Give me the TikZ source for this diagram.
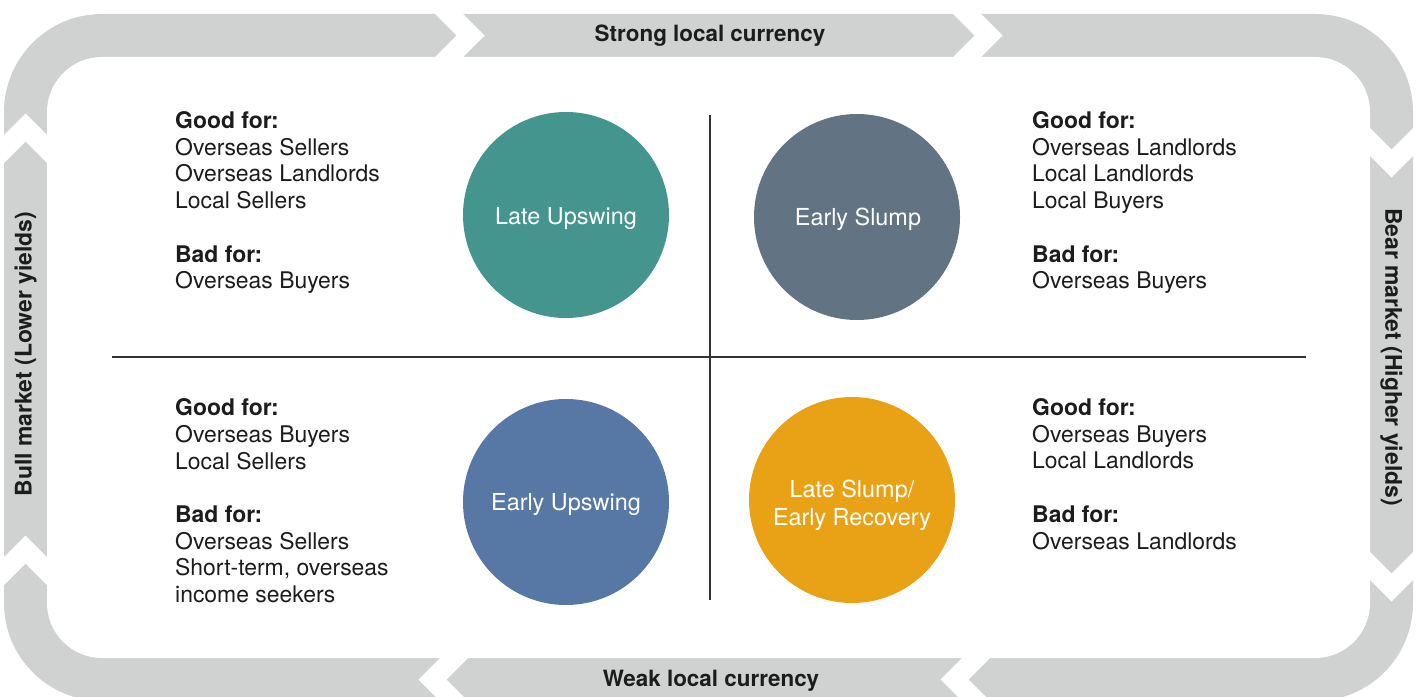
\documentclass[tikz,border=0pt]{standalone}
\usepackage{fontspec}
\setmainfont{TeX Gyre Heros}
\definecolor{bandgray}{HTML}{D0D2D1}
\definecolor{cteal}{HTML}{45958F}
\definecolor{cslate}{HTML}{627384}
\definecolor{cblue}{HTML}{5778A5}
\definecolor{corange}{HTML}{E9A216}
\definecolor{txtdark}{HTML}{1C1C1C}
\definecolor{rulegray}{HTML}{333333}
\tikzset{
  band/.style={fill=bandgray},
  gapfill/.style={fill=white},
  txt/.style={font=\fontsize{23}{26.8}\selectfont, align=left, inner sep=0pt, text=txtdark, anchor=base west},
  phase/.style={circle, minimum size=206bp, inner sep=0pt},
  phaselabel/.style={text=white, align=center, inner sep=0pt, font=\fontsize{23.5}{28}\selectfont},
  bandlabel/.style={font=\fontsize{22.5}{27}\selectfont\bfseries, text=txtdark, inner sep=0pt},
  divider/.style={draw=rulegray, line width=1.1bp}
}
% chevron gaps: #1 = position of the tip corners
\newcommand{\gapRight}[1]{\fill[gapfill] (#1-3,11) -- (#1+21.5,35.5) -- (#1-3,60) -- (#1+25,60) -- (#1+49.5,35.5) -- (#1+25,11) -- cycle;}
\newcommand{\gapDown}[1]{\fill[gapfill] (1367,#1-3) -- (1391.5,#1+21.5) -- (1416,#1-3) -- (1416,#1+25) -- (1391.5,#1+49.5) -- (1367,#1+25) -- cycle;}
\newcommand{\gapLeft}[1]{\fill[gapfill] (#1+3,655) -- (#1-21.5,679.5) -- (#1+3,704) -- (#1-25,704) -- (#1-49.5,679.5) -- (#1-25,655) -- cycle;}
\newcommand{\gapUp}[1]{\fill[gapfill] (1,#1+3) -- (25.5,#1-21.5) -- (50,#1+3) -- (50,#1-25) -- (25.5,#1-49.5) -- (1,#1-25) -- cycle;}
\begin{document}
\begin{tikzpicture}[x=1bp,y=-1bp]
\useasboundingbox (0,0) rectangle (1422,697);
\clip (0,0) rectangle (1422,697);
% frame band
\fill[band, rounded corners=98bp] (4,14) rectangle (1413,701);
\fill[white, rounded corners=55bp] (47,57) rectangle (1370,658);
% gaps between the arrow pieces
\gapRight{435}
\gapRight{953}
\gapDown{128}
\gapDown{552}
\gapLeft{990}
\gapLeft{468}
\gapUp{585}
\gapUp{163}
% band labels
\node[bandlabel] (strong) at (710,36) {Strong local currency};
\node[bandlabel] (weak) at (711,681) {Weak local currency};
\node[bandlabel, font=\fontsize{23}{27}\selectfont\bfseries, rotate=90] (bull) at (25.5,354) {Bull market (Lower yields)};
\node[bandlabel, font=\fontsize{23}{27}\selectfont\bfseries, rotate=-90] (bear) at (1391.5,357) {Bear market (Higher yields)};
% dividers
\coordinate (vtop) at (710,115);
\coordinate (vbot) at (710,600);
\coordinate (hleft) at (112,357);
\coordinate (hright) at (1306,357);
\draw[divider] (vtop) -- (vbot);
\draw[divider] (hleft) -- (hright);
% phases
\node[phase, fill=cteal] (lu) at (566,215) {};
\node[phaselabel] (lut) at (566,219) {Late Upswing};
\node[phase, fill=cslate] (es) at (857,217) {};
\node[phaselabel] (est) at (858,219) {Early Slump};
\node[phase, fill=cblue] (eu) at (566,502) {};
\node[phaselabel] (eut) at (566,505) {Early Upswing};
\node[phase, fill=corange] (ls) at (852,500) {};
\node[phaselabel] (lst) at (852,505) {Late Slump/\\Early Recovery};
% quadrant texts (anchored at the baseline of their last line)
\node[txt] (tl) at (175,288.8) {\textbf{Good for:}\\Overseas Sellers\\Overseas Landlords\\Local Sellers\\[26.8bp]\textbf{Bad for:}\\Overseas Buyers};
\node[txt] (tr) at (1032,288.8) {\textbf{Good for:}\\Overseas Landlords\\Local Landlords\\Local Buyers\\[26.8bp]\textbf{Bad for:}\\Overseas Buyers};
\node[txt] (bl) at (175,602.6) {\textbf{Good for:}\\Overseas Buyers\\Local Sellers\\[26.8bp]\textbf{Bad for:}\\Overseas Sellers\\Short-term, overseas\\income seekers};
\node[txt] (br) at (1032,549) {\textbf{Good for:}\\Overseas Buyers\\Local Landlords\\[26.8bp]\textbf{Bad for:}\\Overseas Landlords};
\end{tikzpicture}
\end{document}
